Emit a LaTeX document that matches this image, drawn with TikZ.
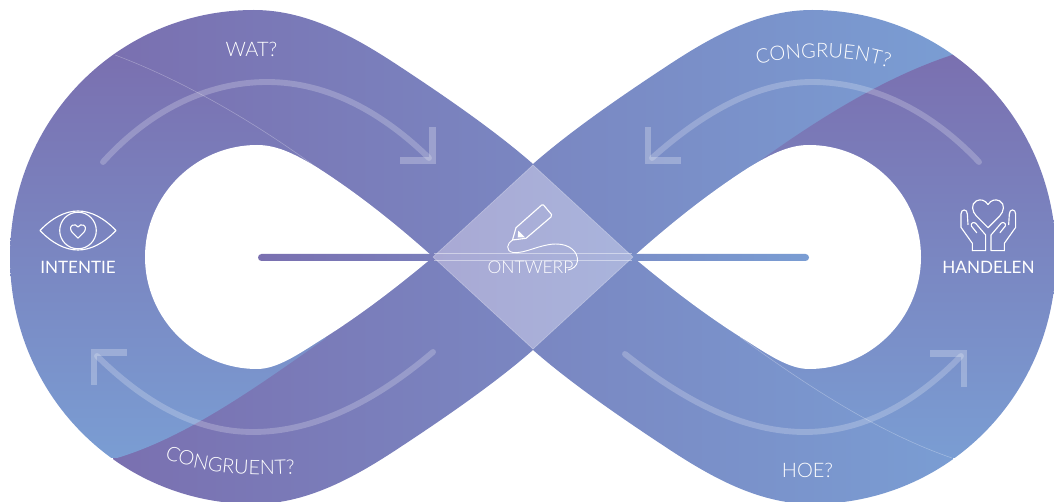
\documentclass[tikz,border=0pt]{standalone}
\usepackage{fontspec}
\setmainfont{Lato}[UprightFont=* Light]
\newfontfamily\regfont{Lato}
\usetikzlibrary{decorations.text}
\definecolor{ribPurple}{HTML}{7A70B0}
\definecolor{ribBlue}{HTML}{7A9DD3}
\definecolor{diaLeft}{HTML}{A9A9D4}
\definecolor{diaRight}{HTML}{A9B4DC}
\newcommand{\ribbonOutline}{(533,164) .. controls (500,135) and (455,103) .. (405,70) .. controls (360,40) and (310,10) .. (254,10) .. controls (118,10) and (10,120) .. (10,257) .. controls (10,394) and (118,504) .. (254,504) .. controls (310,504) and (360,474) .. (405,444) .. controls (455,411) and (500,379) .. (533,350) .. controls (566,379) and (611,411) .. (661,444) .. controls (706,474) and (756,504) .. (812,504) .. controls (948,504) and (1056,394) .. (1056,257) .. controls (1056,120) and (948,10) .. (812,10) .. controls (756,10) and (706,40) .. (661,70) .. controls (611,103) and (566,135) .. (533,164) -- cycle}
\tikzset{
  x=0.75pt,y=-0.75pt,
  iconline/.style={draw=white,line width=0.85pt,line join=round,line cap=round},
  shaft/.style={draw=white,draw opacity=0.22,line width=4.4pt,line cap=round},
  head/.style={draw=white,draw opacity=0.26,line width=5pt,line join=miter,line cap=butt},
  cutline/.style={draw=white,draw opacity=0.3,line width=0.4pt},
  label/.style={text=white,inner sep=0pt,anchor=base,font=\fontsize{15}{15}\selectfont},
  iconlabel/.style={text=white,inner sep=0pt,anchor=base,font=\regfont\fontsize{12.8}{13}\selectfont},
}
\newcommand{\heartshape}[3]{% cx, top notch y, scale
  \draw[iconline,shift={(#1,#2)},x=#3*0.75pt,y=-#3*0.75pt] (0,0) .. controls (-2,-3) and (-5,-4) .. (-8,-2.5) .. controls (-12,-0.5) and (-11,5) .. (-8,8) -- (0,16) -- (8,8) .. controls (11,5) and (12,-0.5) .. (8,-2.5) .. controls (5,-4) and (2,-3) .. (0,0) -- cycle;}
\begin{document}
\begin{tikzpicture}
\useasboundingbox (0,0) rectangle (1054,502);
% ribbon
\begin{scope}
  \clip \ribbonOutline;
  \shade[left color=ribPurple,right color=ribBlue] (113,0) rectangle (953,502);
  \shade[top color=ribPurple,bottom color=ribBlue] (115,55) .. controls (182,80) and (255,122) .. (320,170) -- (326,338) .. controls (258,386) and (187,437) .. (117,458) -- (0,458) -- (0,55) -- cycle;
  \shade[top color=ribPurple,bottom color=ribBlue] (952,55) .. controls (885,77) and (815,120) .. (746,171) -- (740,337) .. controls (815,392) and (885,435) .. (952,458) -- (1056,458) -- (1056,55) -- cycle;
  \draw[cutline] (115,55) .. controls (182,80) and (255,122) .. (320,170);
  \draw[cutline] (740,337) .. controls (815,392) and (885,435) .. (952,458);
\end{scope}
% holes
\fill[white] (433,257) .. controls (397,225) and (360,195) .. (318,168) .. controls (292,152) and (275,145) .. (257,145) .. controls (196,145) and (145,195) .. (145,257) .. controls (145,319) and (196,369) .. (257,369) .. controls (278,369) and (300,353) .. (324,338) .. controls (362,314) and (397,287) .. (433,257) -- cycle;
\fill[white] (633,257) .. controls (669,225) and (706,195) .. (748,168) .. controls (774,152) and (791,145) .. (809,145) .. controls (870,145) and (921,195) .. (921,257) .. controls (921,319) and (870,369) .. (809,369) .. controls (788,369) and (766,353) .. (742,338) .. controls (704,314) and (669,287) .. (633,257) -- cycle;
% central bar
\shade[left color=ribPurple,right color=ribBlue,rounded corners=2.6pt] (258,254) rectangle (809,261);
% diamond
\shade[left color=diaLeft,right color=diaRight] (433,257) -- (533,165) -- (633,257) -- (533,349) -- cycle;
\draw[white,draw opacity=0.3,line width=0.5pt] (433,257) -- (533,165) -- (633,257) -- (533,349) -- cycle;
\draw[white,draw opacity=0.45,line width=0.5pt] (434,253.7) -- (632,253.7) (434,260.3) -- (632,260.3);
% arrows
\draw[shaft] (103,162) .. controls (150,110) and (208,82) .. (267,82) .. controls (330,82) and (385,115) .. (429,158);
\draw[head] (432.5,127) -- (432.5,160.5) -- (400,160.5);
\draw[shaft] (979,162) .. controls (930,110) and (872,82) .. (812,82) .. controls (752,82) and (697,118) .. (652,158);
\draw[head] (648,127) -- (648,160.5) -- (681,160.5);
\draw[shaft] (433,352) .. controls (386,392) and (323,432) .. (253,432) .. controls (193,432) and (142,400) .. (97,356);
\draw[head] (127,352.5) -- (94,352.5) -- (94,385);
\draw[shaft] (625,354) .. controls (677,395) and (738,432) .. (805,432) .. controls (868,432) and (920,398) .. (961,356);
\draw[head] (930,353.5) -- (964,353.5) -- (964,387);
% labels
\node[label] (wat) at (251.5,57) {WAT?};
\node[label] (hoe) at (807.5,477) {HOE?};
\path[decorate,decoration={text along path,text align=center,text={|\fontsize{15}{15}\selectfont\color{white}|CONGRUENT?}}] (753,66) .. controls (793,55) and (850,54) .. (893,69);
\path[decorate,decoration={text along path,text align=center,text={|\fontsize{15}{15}\selectfont\color{white}|CONGRUENT?}}] (160,456) .. controls (190,471) and (247,478) .. (300,473);
\node[iconlabel] (intentie) at (78,274) {INTENTIE};
\node[iconlabel,font=\fontsize{13.1}{13}\selectfont] (ontwerp) at (530.5,274) {ONTWERP};
\node[iconlabel] (handelen) at (988.5,274) {HANDELEN};
% eye icon
\draw[iconline] (40,230.5) .. controls (52,218) and (65,211) .. (78,211) .. controls (91,211) and (104,218) .. (116,230.5) .. controls (104,243) and (91,250) .. (78,250) .. controls (65,250) and (52,243) .. (40,230.5) -- cycle;
\draw[iconline] (78,230.5) circle [radius=18.3];
\heartshape{78}{227}{0.7}
% hands icon
\heartshape{988}{204.5}{1.45}
\begin{scope}[shift={(935,190)},x=0.25pt,y=-0.25pt]
  \draw[iconline] (112,182) -- (152,182) -- (152,135) -- (122,100) .. controls (116,94) and (106,100) .. (109,108) -- (125,128);
  \draw[iconline] (112,182) -- (112,160) -- (78,112) -- (78,72) .. controls (78,56) and (97,56) .. (97,72) -- (99,104);
  \draw[iconline] (208,182) -- (168,182) -- (168,135) -- (198,100) .. controls (204,94) and (214,100) .. (211,108) -- (195,128);
  \draw[iconline] (208,182) -- (208,160) -- (242,112) -- (242,72) .. controls (242,56) and (223,56) .. (223,72) -- (221,104);
\end{scope}
% pencil icon
\draw[iconline] (512.5,240) -- (516,227.7) -- (541.7,205) .. controls (542.5,204.3) and (543,204.5) .. (543.5,205) -- (551.5,214.5) .. controls (552,215.3) and (552,216) .. (551,217) -- (526,238.3) -- cycle;
\fill[white] (518.3,230.7) -- (525,237.3) -- (517.7,237.3) -- cycle;
\draw[iconline,line width=0.7pt] (512.5,240) .. controls (507,243) and (505,251) .. (513,252.5) .. controls (525,254) and (540,244) .. (556,244) .. controls (570,244) and (578,252) .. (577.5,261) .. controls (577,266) and (573,269) .. (568,270);
\end{tikzpicture}
\end{document}
